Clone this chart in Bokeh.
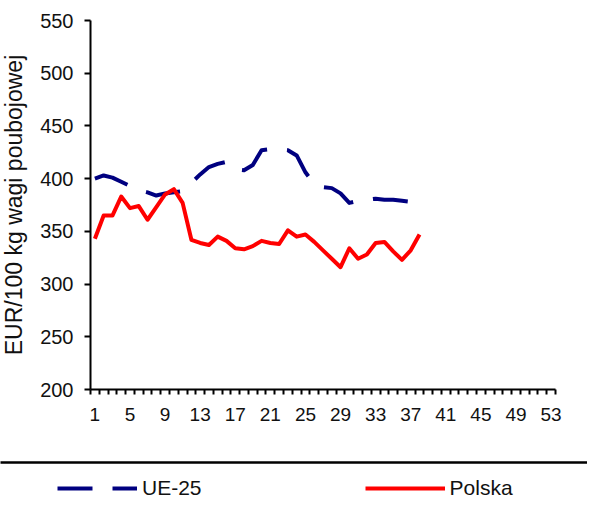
from bokeh.plotting import figure
from bokeh.models import Range1d, FixedTicker, Legend, LegendItem, BoxAnnotation
from bokeh.embed import file_html
from bokeh.resources import INLINE

# ---- data ----
weeks = list(range(1, 39))
ue25 = [400, 403, 401, 397, 393, 389, 387, 384, 386, 387,
        388, 396, 404, 411, 414, 416, 409, 408, 413, 427,
        428, 428, 427, 422, 406, 395, 392, 391, 386, 377,
        379, 380, 381, 380, 380, 379, 378, 377]
polska = [343, 365, 365, 383, 372, 374, 361, 373, 385, 390,
          377, 342, 339, 337, 345, 341, 334, 333, 336, 341,
          339, 338, 351, 345, 347, 340, 332, 324, 316, 334,
          324, 328, 339, 340, 331, 323, 332, 347]
week_ticks = [1, 5, 9, 13, 17, 21, 25, 29, 33, 37, 41, 45, 49, 53]
n_weeks = 53
y_ticks = [200, 250, 300, 350, 400, 450, 500, 550]
y_min, y_max = 200, 550
series_names = ["UE-25", "Polska"]
y_title = "EUR/100 kg wagi poubojowej"

FONT = "Liberation Sans"
W, H = 587, 507

# ---- layout (pixels) : plot area inside the canvas ----
AX_L, AX_R, AX_T, AX_B = 90, 555, 20, 389
x_lo, x_hi = 0.5, n_weeks + 0.5
ppx = (AX_R - AX_L) / (x_hi - x_lo)
ppy = (AX_B - AX_T) / (y_max - y_min)

x_range = Range1d(x_lo - AX_L / ppx, x_hi + (W - AX_R) / ppx)
y_range = Range1d(y_min - (H - AX_B) / ppy, y_max + AX_T / ppy)

p = figure(width=W, height=H, output_backend="svg", toolbar_location=None,
           x_range=x_range, y_range=y_range,
           min_border_left=0, min_border_right=0, min_border_top=0,
           min_border_bottom=0)
p.outline_line_color = None
p.xgrid.visible = False
p.ygrid.visible = False
p.background_fill_color = "white"
p.border_fill_color = "white"

r_ue = p.line(weeks, ue25, line_color="#000080", line_width=4,
              line_dash="35 20", line_join="round")
r_pl = p.line(weeks, polska, line_color="#FF0000", line_width=4,
              line_join="round")

# x axis: categories with ticks between them
xa = p.xaxis[0]
xa.fixed_location = y_min
xa.bounds = (x_lo, x_hi)
xa.ticker = FixedTicker(ticks=week_ticks,
                        minor_ticks=[w - 0.5 for w in range(1, n_weeks + 2)])
xa.major_tick_out = 0
xa.major_tick_in = 0
xa.minor_tick_out = 5
xa.minor_tick_in = 0
xa.minor_tick_line_width = 2
xa.minor_tick_line_color = "black"
xa.axis_line_width = 2
xa.axis_line_color = "black"
xa.major_label_standoff = 13
xa.major_label_text_font = FONT
xa.major_label_text_font_size = "19px"
xa.major_label_text_color = "#111111"

ya = p.yaxis[0]
ya.fixed_location = x_lo
ya.bounds = (y_min, y_max)
ya.ticker = FixedTicker(ticks=y_ticks, minor_ticks=[])
ya.major_tick_out = 6
ya.major_tick_in = 0
ya.major_tick_line_width = 2
ya.major_tick_line_color = "black"
ya.axis_line_width = 2
ya.axis_line_color = "black"
ya.major_label_standoff = 11
ya.major_label_text_font = FONT
ya.major_label_text_font_size = "20px"
ya.major_label_text_color = "#111111"
ya.axis_label = y_title
ya.axis_label_standoff = 10
ya.axis_label_text_font = FONT
ya.axis_label_text_font_size = "23px"
ya.axis_label_text_font_style = "normal"
ya.axis_label_text_color = "#111111"

# legend box (only its top rule is inside the picture)
box = BoxAnnotation(left=-20, right=W + 20, top=462, bottom=H + 100,
                    left_units="canvas", right_units="canvas",
                    top_units="canvas", bottom_units="canvas",
                    fill_alpha=0, line_color="black", line_alpha=1.0,
                    line_width=2.5)
p.add_layout(box)

legend = Legend(items=[LegendItem(label=series_names[0], renderers=[r_ue]),
                       LegendItem(label=series_names[1], renderers=[r_pl])],
                orientation="horizontal", location=(57, 7),
                glyph_width=80, glyph_height=20, label_height=20,
                label_standoff=5, spacing=163, padding=0, margin=0,
                label_text_font=FONT, label_text_font_size="21px",
                label_text_color="#111111",
                border_line_alpha=0, background_fill_alpha=0)
p.add_layout(legend, "center")

open("out.html", "w").write(file_html(p, INLINE))
